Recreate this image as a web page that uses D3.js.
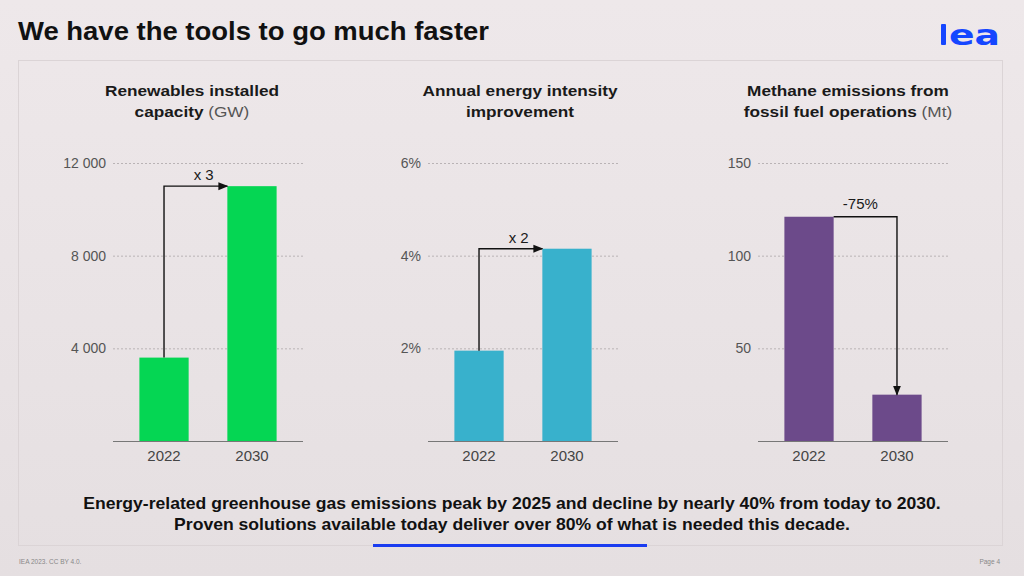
<!DOCTYPE html>
<html>
<head>
<meta charset="utf-8">
<script src="https://cdn.jsdelivr.net/npm/d3@7"></script>
<style>
  html, body { margin: 0; padding: 0; background: #ede7e9; }
  svg { display: block; font-family: "Liberation Sans", Arial, sans-serif; }
</style>
</head>
<body>
<svg id="slide" width="1024" height="576"></svg>
<script>
// ─── Data ────────────────────────────────────────────────────────────────────

const years = ['2022', '2030'];

const renewablesGW   = [3600, 11000];
const intensityPct   = [1.95, 4.15];
const methaneMt      = [121, 25];

const renewablesTicks = [4000, 8000, 12000];
const intensityTicks  = [2, 4, 6];
const methaneTicks    = [50, 100, 150];

const panelTitles = [
  ['Renewables installed', 'capacity', ' (GW)'],
  ['Annual energy intensity', 'improvement', ''],
  ['Methane emissions from', 'fossil fuel operations', ' (Mt)'],
];
const changeLabels = ['x 3', 'x 2', '-75%'];

const headline  = 'We have the tools to go much faster';
const keyLines  = [
  'Energy-related greenhouse gas emissions peak by 2025 and decline by nearly 40% from today to 2030.',
  'Proven solutions available today deliver over 80% of what is needed this decade.',
];

// ─── Setup ───────────────────────────────────────────────────────────────────

const svg = d3.select('#slide');
const W = 1024, H = 576;

// the slide is a video grab, slightly wider than the font's natural width
function stretch(sel, k) {
  sel.each(function () {
    const n = this.getComputedTextLength();
    d3.select(this).attr('textLength', n * k).attr('lengthAdjust', 'spacingAndGlyphs');
  });
}

const defs = svg.append('defs');
const bg = defs.append('linearGradient').attr('id', 'bg').attr('x1', 0).attr('y1', 0).attr('x2', 0).attr('y2', 1);
bg.append('stop').attr('offset', '0%').attr('stop-color', '#eee8ea');
bg.append('stop').attr('offset', '100%').attr('stop-color', '#e5dfe1');

defs.append('marker')
  .attr('id', 'arrow').attr('viewBox', '0 0 10 10')
  .attr('refX', 9).attr('refY', 5)
  .attr('markerWidth', 10).attr('markerHeight', 10)
  .attr('markerUnits', 'userSpaceOnUse')
  .attr('orient', 'auto')
  .append('path').attr('d', 'M0,1 L10,5 L0,9 Z').attr('fill', '#111');

svg.append('rect').attr('width', W).attr('height', H).attr('fill', 'url(#bg)');

// panel frame
svg.append('rect')
  .attr('x', 18.5).attr('y', 60.5).attr('width', 984).attr('height', 485)
  .attr('fill', 'none').attr('stroke', '#dbd4d6').attr('stroke-width', 1);

// title
svg.append('text')
  .attr('x', 18).attr('y', 40)
  .attr('font-size', 25).attr('font-weight', 'bold').attr('fill', '#111')
  .attr('textLength', 471).attr('lengthAdjust', 'spacingAndGlyphs')
  .text(headline);

// logo
const logo = svg.append('g').attr('fill', '#1546ff');
logo.append('rect').attr('x', 941).attr('y', 24).attr('width', 5).attr('height', 21).attr('rx', 1);
logo.append('text')
  .attr('x', 949).attr('y', 45)
  .attr('font-family', '"DejaVu Sans", sans-serif')
  .attr('font-size', 28).attr('font-weight', 'bold')
  .attr('textLength', 51).attr('lengthAdjust', 'spacingAndGlyphs')
  .text('ea');

// ─── Panels ──────────────────────────────────────────────────────────────────

const yTop = 163, yBase = 441;

const panels = [
  { x0: 113, cx: 192, values: renewablesGW, ticks: renewablesTicks, max: 12000,
    fmt: d => d3.format(',')(d).replace(',', ' '), color: '#05d653', kind: 'up' },
  { x0: 428, cx: 520, values: intensityPct, ticks: intensityTicks, max: 6,
    fmt: d => d + '%', color: '#38b1cc', kind: 'up' },
  { x0: 758, cx: 848, values: methaneMt, ticks: methaneTicks, max: 150,
    fmt: d => d, color: '#6c4a8a', kind: 'down' },
];

panels.forEach((p, i) => {
  const g = svg.append('g');
  const w = 190;

  const x = d3.scaleBand().domain(years).range([p.x0, p.x0 + w])
    .paddingInner(0.44).paddingOuter(0.3);
  const y = d3.scaleLinear().domain([0, p.max]).range([yBase, yTop]);

  // panel title
  const [l1, l2, unit] = panelTitles[i];
  const t1 = g.append('text').attr('text-anchor', 'middle').attr('font-size', 15.5).attr('fill', '#1a1a1a')
    .attr('x', p.cx).attr('y', 96).attr('font-weight', 'bold').text(l1);
  const t2 = g.append('text').attr('text-anchor', 'middle').attr('font-size', 15.5).attr('fill', '#1a1a1a')
    .attr('x', p.cx).attr('y', 117);
  t2.append('tspan').attr('font-weight', 'bold').text(l2);
  if (unit) t2.append('tspan').attr('fill', '#555').text(unit);
  stretch(t1, 1.11);
  stretch(t2, 1.11);

  // gridlines + tick labels
  const yAxis = d3.axisLeft(y).tickValues(p.ticks).tickSize(-w).tickPadding(7).tickFormat(p.fmt);
  const ax = g.append('g').attr('transform', `translate(${p.x0},0)`).call(yAxis);
  ax.select('.domain').remove();
  ax.selectAll('.tick line').attr('stroke', '#b9b3b5').attr('stroke-dasharray', '2,2');
  ax.selectAll('.tick text')
    .attr('font-size', 14).attr('fill', '#555')
    .attr('font-family', '"Liberation Sans", Arial, sans-serif');

  // bars
  g.selectAll('rect.bar').data(p.values).join('rect')
    .attr('class', 'bar')
    .attr('x', (d, j) => x(years[j]))
    .attr('y', d => y(d))
    .attr('width', x.bandwidth())
    .attr('height', d => yBase - y(d))
    .attr('fill', p.color);

  // x axis
  const xAxis = d3.axisBottom(x).tickSize(0).tickPadding(9);
  const xa = g.append('g').attr('transform', `translate(0,${yBase})`).call(xAxis);
  xa.select('.domain').remove();
  xa.selectAll('.tick text')
    .attr('font-size', 15).attr('fill', '#444')
    .attr('font-family', '"Liberation Sans", Arial, sans-serif');
  g.append('line')
    .attr('x1', p.x0).attr('x2', p.x0 + w)
    .attr('y1', yBase + 0.5).attr('y2', yBase + 0.5)
    .attr('stroke', '#777').attr('stroke-width', 1);

  // change arrow
  const a = x(years[0]), b = x(years[1]), bw = x.bandwidth();
  let pts, lx, ly;
  if (p.kind === 'up') {
    const sx = a + bw / 2;
    pts = [[sx, y(p.values[0])], [sx, y(p.values[1])], [b, y(p.values[1])]];
    lx = (sx + b) / 2 + 8; ly = y(p.values[1]) - 6;
  } else {
    const ex = b + bw / 2;
    pts = [[a + bw, y(p.values[0])], [ex, y(p.values[0])], [ex, y(p.values[1])]];
    lx = (a + bw + ex) / 2 - 5; ly = y(p.values[0]) - 8;
  }
  g.append('path')
    .attr('d', d3.line()(pts))
    .attr('fill', 'none').attr('stroke', '#111').attr('stroke-width', 1.4)
    .attr('marker-end', 'url(#arrow)');
  g.append('text')
    .attr('x', lx).attr('y', ly)
    .attr('text-anchor', 'middle').attr('font-size', 15).attr('fill', '#1a1a1a')
    .text(changeLabels[i]);
});

// ─── Key message + footer ────────────────────────────────────────────────────

const keys = svg.append('g').selectAll('text').data(keyLines).join('text')
  .attr('x', 512).attr('y', (d, i) => 509 + i * 21)
  .attr('text-anchor', 'middle')
  .attr('font-size', 16.5).attr('font-weight', 'bold').attr('fill', '#111')
  .text(d => d);
stretch(keys, 1.065);

svg.append('rect')
  .attr('x', 373).attr('y', 544).attr('width', 274).attr('height', 3)
  .attr('fill', '#1a3cf0');

svg.append('text')
  .attr('x', 19).attr('y', 564)
  .attr('font-size', 6.5).attr('fill', '#888')
  .text('IEA 2023. CC BY 4.0.');
svg.append('text')
  .attr('x', 1000).attr('y', 564).attr('text-anchor', 'end')
  .attr('font-size', 6.5).attr('fill', '#888')
  .text('Page 4');
</script>
</body>
</html>
